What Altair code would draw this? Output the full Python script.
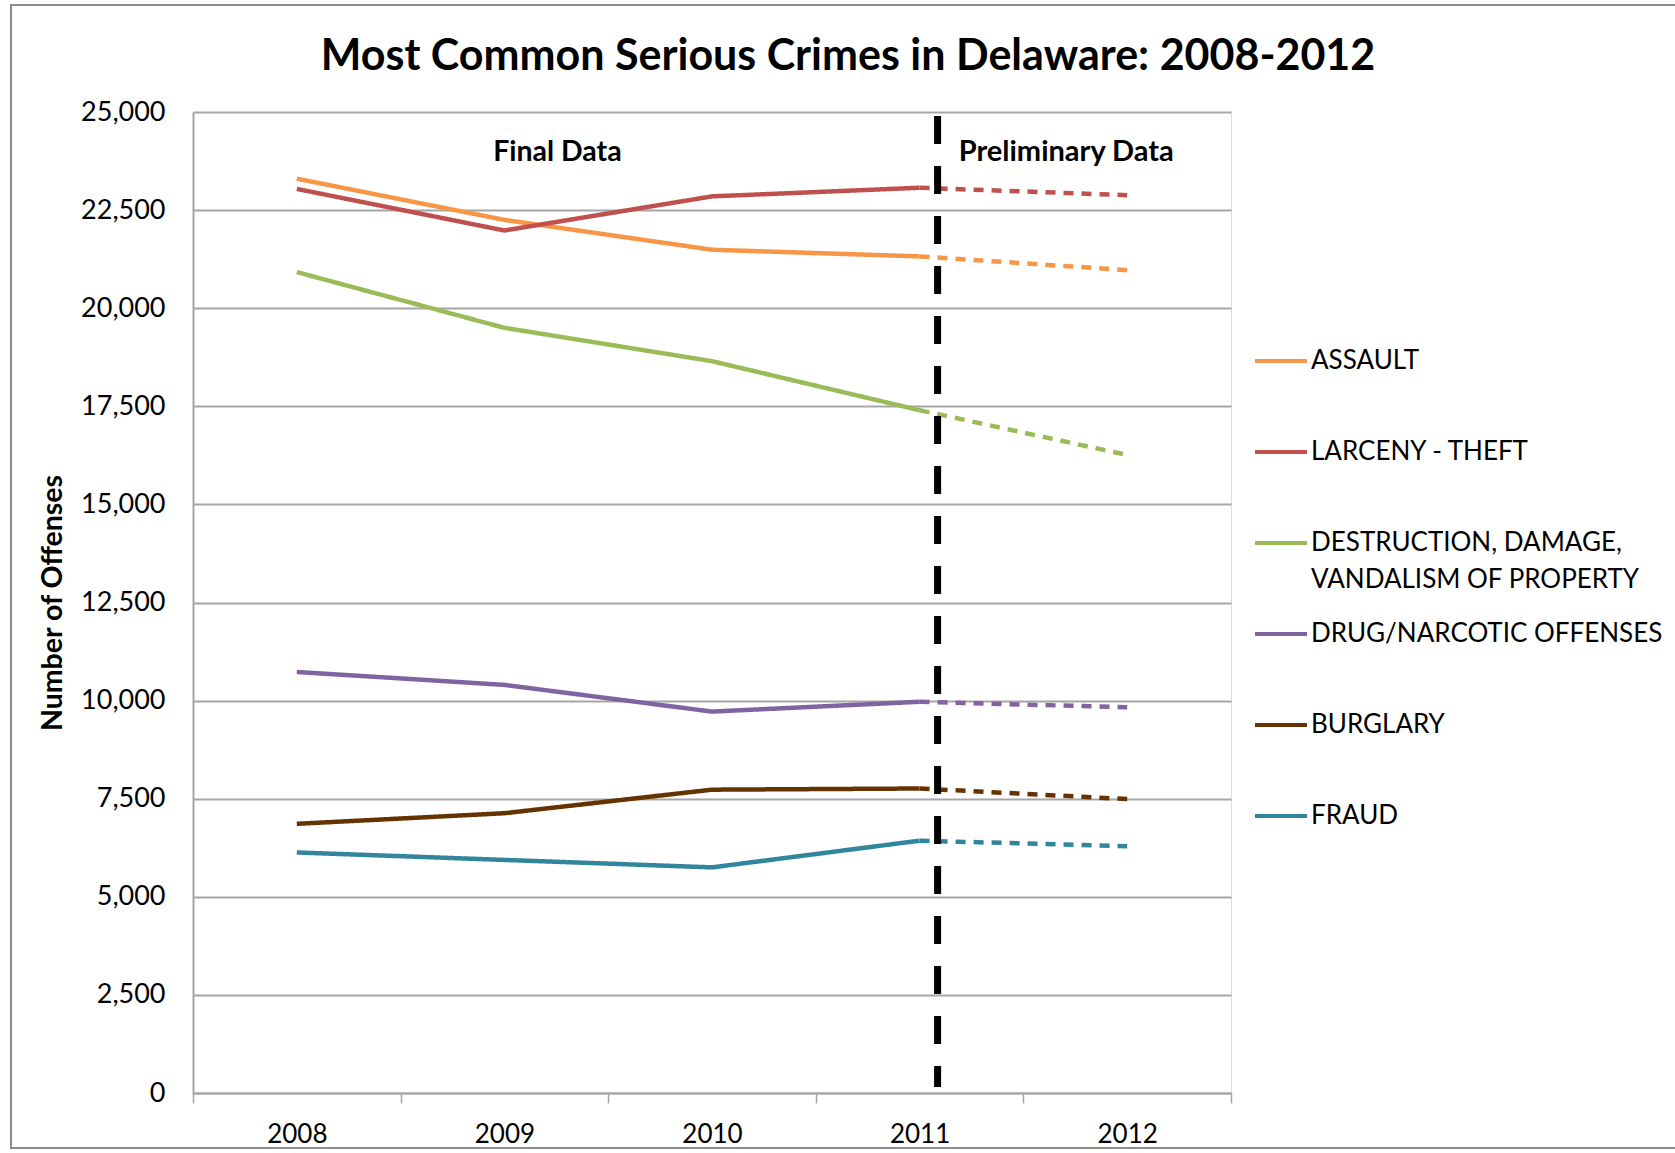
import altair as alt
import pandas as pd

years = ["2008", "2009", "2010", "2011", "2012"]
crimes = [
    "ASSAULT",
    "LARCENY - THEFT",
    "DESTRUCTION, DAMAGE, VANDALISM OF PROPERTY",
    "DRUG/NARCOTIC OFFENSES",
    "BURGLARY",
    "FRAUD",
]
colors = ["#F79646", "#C0504D", "#9BBB59", "#8064A2", "#663300", "#31859C"]

assault = [23300, 22250, 21490, 21320, 20970]
larceny = [23040, 21980, 22850, 23070, 22880]
destruction = [20920, 19500, 18650, 17400, 16260]
drug = [10730, 10400, 9720, 9970, 9830]
burglary = [6860, 7130, 7730, 7760, 7490]
fraud = [6130, 5940, 5750, 6430, 6290]

series = [assault, larceny, destruction, drug, burglary, fraud]
y_ticks = list(range(0, 25001, 2500))

rows = []
for crime, vals in zip(crimes, series):
    for i, (yr, v) in enumerate(zip(years, vals)):
        if i <= 3:
            rows.append({"year": yr, "crime": crime, "value": v, "segment": "Final"})
        if i >= 3:
            rows.append({"year": yr, "crime": crime, "value": v, "segment": "Preliminary"})
df = pd.DataFrame(rows)

FONT = "Lato"
GRID = "#A6A6A6"
LONG = "DESTRUCTION, DAMAGE, VANDALISM OF PROPERTY"

x_enc = alt.X(
    "year:O",
    scale=alt.Scale(type="band", domain=years, paddingInner=0, paddingOuter=0),
    axis=alt.Axis(
        title=None, labelAngle=0, labelFontSize=26, labelFont=FONT, labelColor="#000000",
        ticks=True, tickSize=10, tickColor=GRID, tickWidth=1.5, tickBand="extent",
        domainColor=GRID, domainWidth=2, grid=False, labelPadding=18,
    ),
)
y_scale = alt.Scale(domain=[0, 25000], nice=False)

lines = alt.Chart(df).mark_line(strokeWidth=4.5).encode(
    x=x_enc,
    y=alt.Y(
        "value:Q",
        scale=y_scale,
        axis=alt.Axis(
            title="Number of Offenses", titleFontSize=28.5, titleFont=FONT, titleFontWeight="bold",
            titleColor="#000000", titlePadding=13,
            values=y_ticks, format=",.0f", labelFontSize=27, labelFont=FONT, labelColor="#000000",
            ticks=False, labelPadding=28, grid=True, gridColor=GRID, gridWidth=2,
            domainColor=GRID, domainWidth=2,
        ),
    ),
    color=alt.Color(
        "crime:N",
        scale=alt.Scale(domain=crimes, range=colors),
        legend=alt.Legend(
            title=None, orient="none", legendX=1060, legendY=221,
            symbolType="stroke", symbolSize=2704, symbolStrokeWidth=4,
            labelFontSize=26, labelFont=FONT, labelColor="#000000", labelOffset=2,
            labelLimit=600, rowPadding=13, gridAlign="all",
            labelExpr=f"datum.label == '{LONG}' ? ['DESTRUCTION, DAMAGE,', 'VANDALISM OF PROPERTY'] : datum.label",
        ),
    ),
    strokeDash=alt.StrokeDash(
        "segment:N",
        scale=alt.Scale(domain=["Final", "Preliminary"], range=[[1, 0], [10, 8]]),
        legend=None,
    ),
    detail="segment:N",
)

divider = pd.DataFrame({"year": ["2011"], "top": [24900], "bottom": [150]})
rule = alt.Chart(divider).mark_rule(
    color="black", strokeWidth=7, strokeDash=[28, 22], xOffset=18
).encode(x=alt.X("year:O"), y="top:Q", y2="bottom:Q")

ann_final = pd.DataFrame({"year": ["2009"], "value": [23980], "label": ["Final Data"]})
ann_prelim = pd.DataFrame({"year": ["2012"], "value": [23980], "label": ["Preliminary Data"]})
t1 = alt.Chart(ann_final).mark_text(
    font=FONT, fontSize=28.5, fontWeight="bold", color="#000000", dx=53
).encode(x="year:O", y="value:Q", text="label:N")
t2 = alt.Chart(ann_prelim).mark_text(
    font=FONT, fontSize=29, fontWeight="bold", color="#000000", dx=-61
).encode(x="year:O", y="value:Q", text="label:N")

frame = alt.Chart(pd.DataFrame({"k": [0]})).mark_rect(
    filled=False, stroke="#8C8C8C", strokeWidth=2
).encode(x=alt.value(-182), x2=alt.value(1500), y=alt.value(-107), y2=alt.value(1036))

chart = alt.layer(frame, lines, rule, t1, t2).properties(
    width=1038,
    height=981,
    padding={"left": 193, "top": 112, "right": 444, "bottom": 60},
    autosize=alt.AutoSizeParams(type="none"),
    title=alt.Title(
        "Most Common Serious Crimes in Delaware: 2008-2012",
        font=FONT, fontSize=43, fontWeight="bold", color="#000000",
        anchor="middle", frame="group", dx=136, dy=79,
    ),
).configure_view(stroke=None).configure(
    background="white", style={"guide-label": {"lineHeight": 37}}
)

chart.save("out.html", embed_options={"renderer": "svg", "actions": False})
